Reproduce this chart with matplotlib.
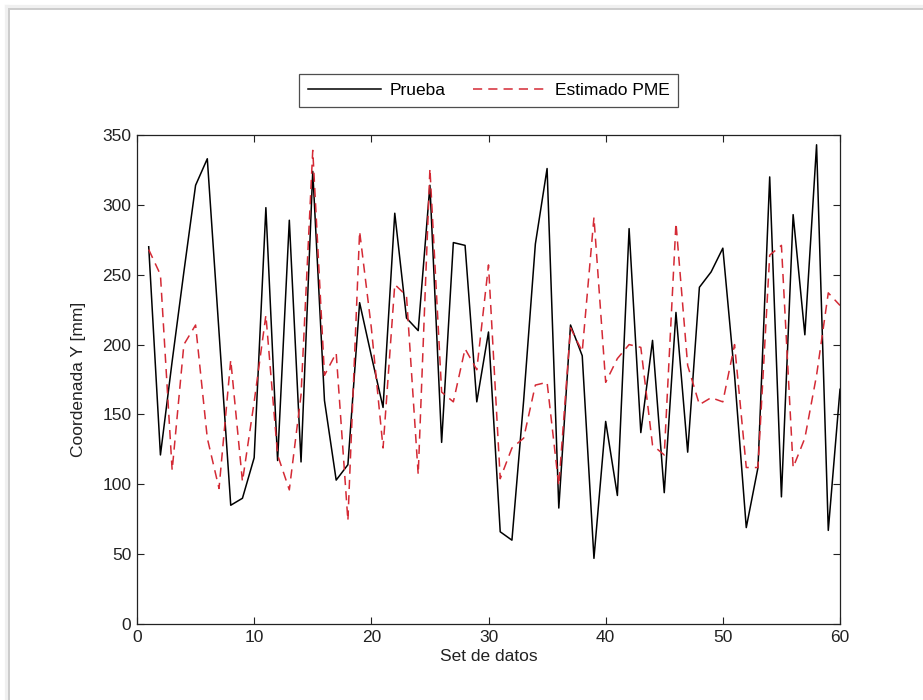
import matplotlib
matplotlib.use("Agg")
import matplotlib.pyplot as plt
from matplotlib.lines import Line2D
from matplotlib import font_manager

# Sample index
x = list(range(1, 61))

# Measured Y coordinate (mm)
prueba = [270, 121, 188, 252, 314, 333, 209, 85, 90, 119,
          298, 117, 289, 116, 324, 160, 103, 114, 230, 192,
          155, 294, 219, 210, 314, 130, 273, 271, 159, 209,
          66, 60, 160, 272, 326, 83, 214, 192, 47, 145,
          92, 283, 137, 203, 94, 223, 123, 241, 252, 269,
          178, 69, 112, 320, 91, 293, 207, 343, 67, 168]

# PME estimate of the Y coordinate (mm)
estimado = [268, 250, 110, 200, 214, 133, 97, 189, 102, 159,
            221, 121, 96, 164, 339, 178, 194, 74, 281, 212,
            126, 243, 235, 107, 326, 166, 159, 197, 182, 257,
            104, 126, 133, 171, 173, 99, 212, 195, 291, 173,
            190, 200, 198, 128, 121, 287, 185, 157, 162, 159,
            200, 112, 112, 264, 271, 112, 133, 178, 237, 228]

xticks = [0, 10, 20, 30, 40, 50, 60]
yticks = [0, 50, 100, 150, 200, 250, 300, 350]

names = {f.name for f in font_manager.fontManager.ttflist}
family = "Liberation Sans Narrow" if "Liberation Sans Narrow" in names else "Liberation Sans"
plt.rcParams["font.family"] = [family, "DejaVu Sans"]
plt.rcParams["font.size"] = 12.5

fig = plt.figure(figsize=(9.23, 7.0), dpi=100)
fig.patch.set_facecolor("white")

# Window frame with a faint shadow on the left and top edges
for off, col, lw in [(2, "#f0f0f0", 3.0), (0, "#cccccc", 1.4)]:
    fig.add_artist(Line2D([(9 - off) / 923, (9 - off) / 923], [0, 1 - (9 - off) / 700],
                          transform=fig.transFigure, color=col, lw=lw, zorder=-1))
    fig.add_artist(Line2D([(9 - off) / 923, 1], [1 - (9 - off) / 700, 1 - (9 - off) / 700],
                          transform=fig.transFigure, color=col, lw=lw, zorder=-1))

ax = fig.add_axes([137 / 923, 1 - 624 / 700, (840 - 137) / 923, (624 - 135) / 700])

ax.plot(x, prueba, color="black", lw=1.1, label="Prueba")
ax.plot(x, estimado, color="#d42a35", lw=1.1, ls=(0, (6, 4)), label="Estimado PME")

ax.set_xlim(0, 60)
ax.set_ylim(0, 350)
ax.set_xticks(xticks)
ax.set_yticks(yticks)
ax.tick_params(direction="in", top=True, right=True, length=5, width=0.8, colors="#222222", pad=4)
for s in ax.spines.values():
    s.set_linewidth(0.9)
    s.set_color("#222222")

ax.set_xlabel("Set de datos", color="#222222", labelpad=3)
ax.set_ylabel("Coordenada Y [mm]", color="#222222", labelpad=12)

leg = ax.legend(loc="lower center", bbox_to_anchor=(0.5, 1.04), ncol=2, frameon=True,
                fancybox=False, edgecolor="#222222", handlelength=4.2, columnspacing=1.6,
                handletextpad=0.5, borderpad=0.5, fontsize=12.5)
leg.get_frame().set_linewidth(0.9)

fig.savefig("out.png", dpi=100, facecolor="white")
